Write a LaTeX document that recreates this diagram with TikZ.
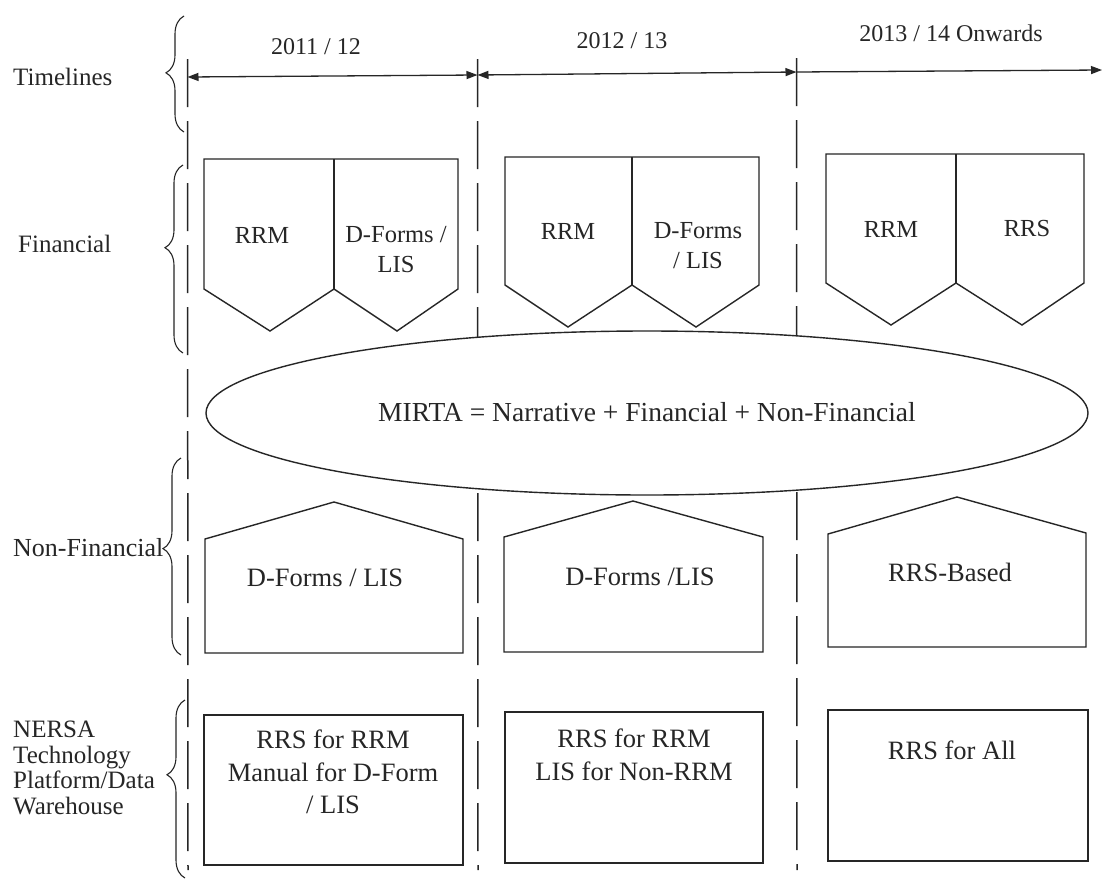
\documentclass[tikz,border=0pt]{standalone}
\usepackage{fontspec}
\setmainfont{Liberation Serif}
\usetikzlibrary{arrows.meta,shapes.geometric,decorations.pathreplacing}
\definecolor{ink}{HTML}{262626}
\begin{document}
\begin{tikzpicture}[x=1pt,y=-1pt,
  ln/.style={line width=1.4pt, draw=ink, line join=miter},
  guide/.style={line width=1.5pt, draw=ink, dash pattern=on 48pt off 14pt},
  tl/.style={line width=1.3pt, draw=ink},
  brc/.style={line width=1.1pt, draw=ink, decorate, decoration={brace, amplitude=18pt, aspect=#1}},
  lbl/.style={font=\fontsize{25}{26}\selectfont, text=ink, inner sep=0pt, anchor=west, align=left},
  yr/.style={font=\fontsize{24}{29}\selectfont, text=ink, inner sep=0pt},
  fin/.style={font=\fontsize{24.5}{30}\selectfont, text=ink, inner sep=0pt, align=center},
  big/.style={font=\fontsize{26.5}{32.5}\selectfont, text=ink, inner sep=0pt, align=center},
  tip/.tip={Triangle[length=11pt,width=8pt]}
]
\useasboundingbox (0,0) rectangle (1108,881);
\fill[white] (0,0) rectangle (1108,881);

% guide line coordinates
\coordinate (g1t) at (187.5,59);  \coordinate (g1b) at (188,870);
\coordinate (g2t) at (477.5,59);  \coordinate (g2b) at (478,870);
\coordinate (g3t) at (796.5,58);  \coordinate (g3b) at (797,870);
\coordinate (endt) at (1102,70);
\draw[guide] (g1t) -- (g1b);
\draw[guide] (g2t) -- (g2b);
\draw[guide] (g3t) -- (g3b);

% timeline arrows
\coordinate (a1) at (187.5,77);
\coordinate (a2) at (477.5,75);
\coordinate (a3) at (796.5,72);
\draw[tl, {tip}-{tip}] (a1) -- (a2);
\draw[tl, {tip}-{tip}] (a2) -- (a3);
\draw[tl, -{tip}] (a3) -- (endt);

\node[yr] (y1) at (316,47) {2011 / 12};
\node[yr] (y2) at (622,41) {2012 / 13};
\node[yr] (y3) at (951,33) {2013 / 14 Onwards};

% left labels
\node[lbl] (ltime) at (13,77) {Timelines};
\node[lbl] (lfin) at (18,244) {Financial};
\node[lbl, font=\fontsize{26}{27}\selectfont] (lnon) at (13,548) {Non-Financial};
\node[lbl, font=\fontsize{25}{25.7}\selectfont] (lnersa) at (13,768) {NERSA\\Technology\\Platform/Data\\Warehouse};

% braces
\draw[brc=0.51] (184,132) -- (184,16);
\draw[brc=0.56] (183,353) -- (183,165);
\draw[brc=0.54] (181,655) -- (181,458);
\draw[brc=0.58] (185,878) -- (185,700);

% financial row
\draw[ln, fill=white] (204,159) -- (458,159) -- (458,289) -- (397,331) -- (334,289) -- (270,331) -- (204,289) -- cycle;
\draw[ln] (334,159) -- (334,289);
\draw[ln, fill=white] (505,157) -- (759,157) -- (759,285) -- (696,327) -- (632,285) -- (568,327) -- (505,285) -- cycle;
\draw[ln] (632,157) -- (632,285);
\draw[ln, fill=white] (826,154) -- (1084,154) -- (1084,283) -- (1022,325) -- (956,283) -- (891,325) -- (826,283) -- cycle;
\draw[ln] (956,154) -- (956,283);

\node[fin] (f1a) at (262,235) {RRM};
\node[fin] (f1b) at (396,250) {D-Forms /\\LIS};
\node[fin] (f2a) at (568,231) {RRM};
\node[fin] (f2b) at (698,246) {D-Forms\\/ LIS};
\node[fin] (f3a) at (891,229) {RRM};
\node[fin] (f3b) at (1027,229) {RRS};

% MIRTA ellipse
\node[ellipse, ln, fill=white, minimum width=882pt, minimum height=164pt, inner sep=0pt,
      font=\fontsize{27.5}{30}\selectfont, text=ink] (mirta) at (647,413)
      {\raisebox{3pt}{MIRTA = Narrative + Financial + Non-Financial}};

% non-financial row
\draw[ln, fill=white] (205,653) -- (205,539) -- (334,502) -- (463,539) -- (463,653) -- cycle;
\draw[ln, fill=white] (504,652) -- (504,537) -- (633,501) -- (763,537) -- (763,652) -- cycle;
\draw[ln, fill=white] (828,647) -- (828,534) -- (957,497) -- (1086,533) -- (1086,647) -- cycle;
\node[big] (n1) at (325,578) {D-Forms / LIS};
\node[big] (n2) at (640,577) {D-Forms /LIS};
\node[big] (n3) at (950,572) {RRS-Based};

% platform row
\node[ln, draw, fill=white, minimum width=259pt, minimum height=150pt, inner sep=0pt] (b1) at (333.5,790) {};
\node[ln, draw, fill=white, minimum width=258pt, minimum height=151pt, inner sep=0pt] (b2) at (634,787.5) {};
\node[ln, draw, fill=white, minimum width=260pt, minimum height=151pt, inner sep=0pt] (b3) at (958,785.5) {};
\node[big] (t1) at (333,772) {RRS for RRM\\Manual for D-Form\\/ LIS};
\node[big] (t2) at (634,755) {RRS for RRM\\LIS for Non-RRM};
\node[big] (t3) at (952,750) {RRS for All};
\end{tikzpicture}
\end{document}
